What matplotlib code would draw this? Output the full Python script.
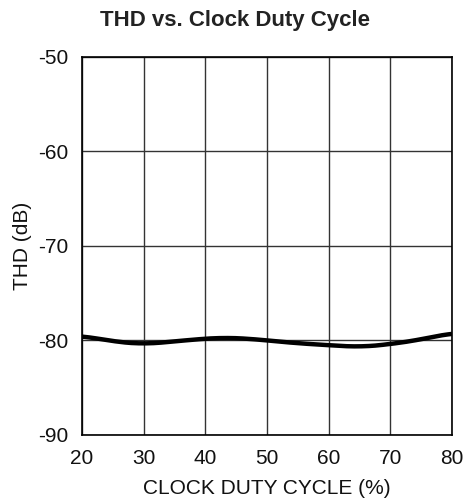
import matplotlib

matplotlib.use("Agg")
import matplotlib.pyplot as plt
import numpy as np

plt.rcParams["font.family"] = ["Liberation Sans", "DejaVu Sans"]
plt.rcParams["axes.unicode_minus"] = False

# Curve (duty cycle %, THD dB)
duty = [20, 25, 30, 35, 40, 43, 47, 50, 55, 60, 65, 70, 75, 80]
thd = [-79.5, -80.1, -80.4, -80.1, -79.8, -79.7, -79.8, -80.0, -80.3, -80.5, -80.7, -80.4, -79.9, -79.2]
x_ticks = [20, 30, 40, 50, 60, 70, 80]
y_ticks = [-90, -80, -70, -60, -50]

fig = plt.figure(figsize=(4.65, 5.04), dpi=100)
ax = fig.add_axes([0.176, 0.137, 0.796, 0.750])

# smooth the read points a little for display
xs = np.linspace(20, 80, 300)
ys = np.interp(xs, duty, thd)
k = 15
ys_s = np.convolve(np.pad(ys, k, mode="edge"), np.ones(2 * k + 1) / (2 * k + 1), mode="same")[k:-k]
ax.plot(xs, ys_s, color="black", lw=3.2, solid_capstyle="butt")

ax.set_xlim(20, 80)
ax.set_ylim(-90, -50)
ax.set_xticks(x_ticks)
ax.set_yticks(y_ticks)
ax.tick_params(length=0, labelsize=15, colors="#111111")
ax.tick_params(axis="y", pad=10)
ax.tick_params(axis="x", pad=10)
ax.grid(True, color="#333333", lw=1.0)
for s in ax.spines.values():
    s.set_linewidth(1.2)
ax.set_xlabel("CLOCK DUTY CYCLE (%)", fontsize=15, labelpad=8, color="#111111")
ax.set_ylabel("THD (dB)", fontsize=15, labelpad=4, color="#111111")
fig.text(0.505, 0.960, "THD vs. Clock Duty Cycle", ha="center", va="center",
         fontsize=16, fontweight="bold", color="#222222")

fig.savefig("out.png", dpi=100)
